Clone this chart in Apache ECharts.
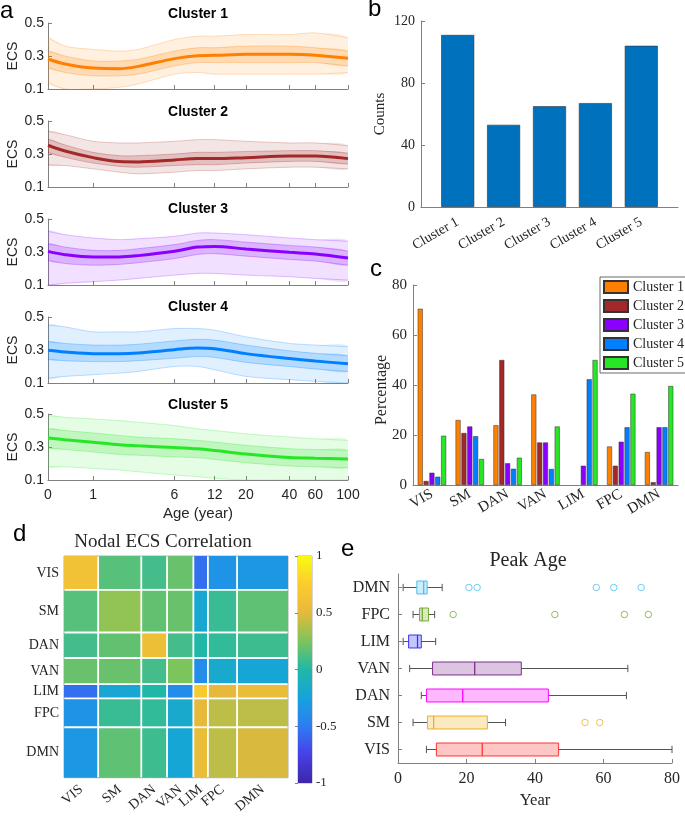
<!DOCTYPE html>
<html><head><meta charset="utf-8">
<script src="https://cdn.jsdelivr.net/npm/echarts@6/dist/echarts.min.js"></script>
<style>html,body{margin:0;padding:0;background:#fff}#c{width:685px;height:816px}</style>
</head><body><div id="c"></div><script>
// ================= DATA =================
// Panel a: ECS trajectories (age in years); envelopes
const ages = [0, 0.3, 1, 2, 3, 6, 9, 12, 20, 40, 60, 100];
const ageTicks = [0, 1, 6, 12, 20, 40, 60, 100];
const clusterNames = ['Cluster 1', 'Cluster 2', 'Cluster 3', 'Cluster 4', 'Cluster 5'];

const c1Mean = [0.282,0.252,0.227,0.223,0.237,0.284,0.302,0.304,0.310,0.310,0.304,0.286];
const c1Hi   = [0.41,0.36,0.34,0.33,0.34,0.40,0.42,0.42,0.43,0.43,0.44,0.41];
const c1Lo   = [0.14,0.10,0.10,0.11,0.13,0.19,0.20,0.19,0.19,0.19,0.19,0.20];
const c1Q3   = [0.33,0.30,0.27,0.27,0.28,0.33,0.35,0.35,0.36,0.36,0.35,0.33];
const c1Q1   = [0.23,0.20,0.18,0.18,0.19,0.24,0.26,0.26,0.26,0.26,0.26,0.24];

const c2Mean = [0.353,0.318,0.278,0.254,0.252,0.264,0.272,0.272,0.278,0.288,0.288,0.272];
const c2Hi   = [0.437,0.417,0.377,0.367,0.367,0.377,0.387,0.387,0.377,0.367,0.367,0.35];
const c2Lo   = [0.235,0.23,0.21,0.19,0.18,0.19,0.20,0.20,0.21,0.22,0.22,0.21];
const c2Q3   = [0.39,0.355,0.31,0.29,0.29,0.30,0.31,0.31,0.315,0.32,0.32,0.305];
const c2Q1   = [0.31,0.28,0.245,0.225,0.22,0.23,0.235,0.235,0.245,0.255,0.255,0.24];

const c3Mean = [0.304,0.284,0.270,0.270,0.278,0.304,0.330,0.334,0.318,0.298,0.288,0.264];
const c3Hi   = [0.425,0.405,0.385,0.375,0.38,0.395,0.415,0.415,0.405,0.385,0.375,0.365];
const c3Lo   = [0.10,0.11,0.12,0.13,0.14,0.16,0.17,0.17,0.16,0.15,0.14,0.13];
const c3Q3   = [0.35,0.33,0.31,0.31,0.32,0.345,0.37,0.375,0.36,0.34,0.33,0.305];
const c3Q1   = [0.25,0.23,0.22,0.225,0.235,0.26,0.285,0.29,0.275,0.255,0.245,0.22];

const c4Mean = [0.298,0.288,0.278,0.278,0.282,0.302,0.312,0.308,0.278,0.248,0.233,0.217];
const c4Hi   = [0.45,0.44,0.41,0.41,0.41,0.43,0.43,0.42,0.38,0.34,0.33,0.32];
const c4Lo   = [0.13,0.14,0.15,0.16,0.17,0.20,0.20,0.18,0.14,0.12,0.11,0.10];
const c4Q3   = [0.35,0.34,0.33,0.33,0.335,0.355,0.365,0.36,0.33,0.295,0.28,0.265];
const c4Q1   = [0.245,0.235,0.23,0.23,0.235,0.25,0.26,0.255,0.225,0.20,0.185,0.17];

const c5Mean = [0.354,0.344,0.329,0.313,0.307,0.297,0.289,0.279,0.258,0.236,0.232,0.228];
const c5Hi   = [0.49,0.48,0.47,0.46,0.45,0.43,0.41,0.40,0.38,0.36,0.35,0.34];
const c5Lo   = [0.18,0.18,0.17,0.16,0.15,0.13,0.12,0.11,0.10,0.10,0.10,0.10];
const c5Q3   = [0.41,0.40,0.385,0.37,0.36,0.35,0.34,0.33,0.31,0.29,0.285,0.28];
const c5Q1   = [0.295,0.285,0.27,0.255,0.25,0.24,0.235,0.225,0.205,0.185,0.18,0.175];

// Panel b: region counts per cluster
const counts = [111, 53, 65, 67, 104];

// Panel c: percentage of each network's regions in each cluster
const networks = ['VIS', 'SM', 'DAN', 'VAN', 'LIM', 'FPC', 'DMN'];
const pctC1 = [70.5, 26.0, 23.9, 36.2, 0, 15.4, 13.2];
const pctC2 = [1.6, 20.8, 50.0, 17.0, 0, 7.7, 1.1];
const pctC3 = [4.9, 23.4, 8.7, 17.0, 7.7, 17.3, 23.1];
const pctC4 = [3.3, 19.5, 6.5, 6.4, 42.3, 23.1, 23.1];
const pctC5 = [19.7, 10.4, 10.9, 23.4, 50.0, 36.5, 39.6];

// Panel d: network sizes and block-level nodal ECS correlation
const netSizes = [61, 77, 46, 47, 26, 52, 91];
const corrVIS = [0.62, 0.15, 0.10, 0.20, -0.55, -0.35, -0.32];
const corrSM  = [0.15, 0.30, 0.18, 0.20, -0.20, 0.07, 0.17];
const corrDAN = [0.10, 0.18, 0.58, 0.10, 0.00, 0.05, 0.08];
const corrVAN = [0.20, 0.20, 0.10, 0.25, -0.40, -0.18, -0.22];
const corrLIM = [-0.55, -0.20, 0.00, -0.40, 0.72, 0.50, 0.55];
const corrFPC = [-0.35, 0.07, 0.05, -0.18, 0.50, 0.40, 0.40];
const corrDMN = [-0.32, 0.17, 0.08, -0.22, 0.55, 0.40, 0.47];
const cbTicks = [-1, -0.5, 0, 0.5, 1];

// Panel e: peak age box plots (bottom to top)
const peakNets = ['VIS', 'SM', 'DAN', 'VAN', 'LIM', 'FPC', 'DMN'];
const peakLow  = [8.3, 4.4, 6.8, 3.4, 1.5, 4.4, 1.5];
const peakQ1   = [11.2, 8.6, 8.3, 10.1, 3.1, 6.3, 5.5];
const peakMed  = [24.6, 10.4, 18.9, 22.4, 5.7, 7.1, 7.5];
const peakQ3   = [46.9, 26.1, 43.9, 36.0, 6.8, 8.9, 8.5];
const peakHigh = [80.0, 31.4, 66.7, 67.1, 11.0, 10.7, 12.9];
const outVIS = [], outSM = [54.6, 58.9], outDAN = [], outVAN = [], outLIM = [];
const outFPC = [16.1, 45.8, 66.1, 73.1];
const outDMN = [20.7, 23.1, 57.9, 63.0, 71.0];

// ================= STYLE =================
const clusterColors = ['#FF8000', '#A32828', '#8A00FF', '#0080FF', '#26E626'];
const boxColors = ['#FF3333', '#EDB120', '#FF00FF', '#7E2F8E', '#3333FF', '#77AC30', '#4DBEEE'];
const parula = ['#3E26A8', '#4640E6', '#2E7CF2', '#15A3DC', '#1FB8A8', '#7CC55C', '#E6B93A', '#FCCB2F', '#F9FB0E'];
const SANS = '"Liberation Sans", Arial, sans-serif';
const SERIF = '"Liberation Serif", "Times New Roman", serif';
const lineCol = '#808080', txt = '#262626';

function rgba(hex, a) {
  const n = parseInt(hex.slice(1), 16);
  return 'rgba(' + (n >> 16 & 255) + ',' + (n >> 8 & 255) + ',' + (n & 255) + ',' + a + ')';
}
function merge(a, b) {
  const out = Object.assign({}, a);
  for (const k in b) {
    if (b[k] && typeof b[k] === 'object' && !Array.isArray(b[k]) && a[k] && typeof a[k] === 'object') out[k] = merge(a[k], b[k]);
    else out[k] = b[k];
  }
  return out;
}
function base() {
  return {
    axisLine: {show: true, lineStyle: {color: lineCol, width: 1}},
    axisTick: {show: true, inside: true, length: 4, lineStyle: {color: lineCol}},
    splitLine: {show: false},
    axisLabel: {color: txt}
  };
}

const grids = [], xAxes = [], yAxes = [], series = [];

// ================= PANEL A =================
const TX = a => Math.log(a + 1);
const tickPos = ageTicks.map(TX);
const clusters = [
  {mean: c1Mean, hi: c1Hi, lo: c1Lo, q3: c1Q3, q1: c1Q1},
  {mean: c2Mean, hi: c2Hi, lo: c2Lo, q3: c2Q3, q1: c2Q1},
  {mean: c3Mean, hi: c3Hi, lo: c3Lo, q3: c3Q3, q1: c3Q1},
  {mean: c4Mean, hi: c4Hi, lo: c4Lo, q3: c4Q3, q1: c4Q1},
  {mean: c5Mean, hi: c5Hi, lo: c5Lo, q3: c5Q3, q1: c5Q1}
];
const aTops = [23, 121, 219, 317, 414];
const pts = arr => ages.map((a, j) => [TX(a), arr[j]]);

function bandSeries(i, hi, lo, col, alpha, lineAlpha, z) {
  return {
    type: 'custom', xAxisIndex: i, yAxisIndex: i, clip: true, silent: true, z: z,
    data: ages.map((a, j) => [TX(a), hi[j], lo[j]]), encode: {x: 0, y: [1, 2]},
    renderItem: (params, api) => {
      if (params.dataIndex !== 0) return null;
      const up = ages.map((a, j) => api.coord([TX(a), hi[j]]));
      const dn = ages.map((a, j) => api.coord([TX(a), lo[j]]));
      return {type: 'group', children: [
        {type: 'polygon', shape: {points: up.concat(dn.slice().reverse()), smooth: 0.3}, style: {fill: rgba(col, alpha)}},
        {type: 'polyline', shape: {points: up, smooth: 0.3}, style: {stroke: rgba(col, lineAlpha), lineWidth: 0.7, fill: null}},
        {type: 'polyline', shape: {points: dn, smooth: 0.3}, style: {stroke: rgba(col, lineAlpha), lineWidth: 0.7, fill: null}}
      ]};
    }
  };
}

clusters.forEach((c, i) => {
  grids.push({left: 48, top: aTops[i], width: 300, height: 66});
  xAxes.push(merge(base(), {
    type: 'value', gridIndex: i, min: 0, max: TX(100),
    axisLabel: {show: i === 4, customValues: tickPos, fontFamily: SANS, fontSize: 14, margin: 8,
      formatter: v => { const k = tickPos.findIndex(p => Math.abs(p - v) < 1e-6); return k >= 0 ? String(ageTicks[k]) : ''; }},
    axisTick: {customValues: tickPos}
  }));
  yAxes.push(merge(base(), {
    type: 'value', gridIndex: i, min: 0.1, max: 0.5,
    axisLabel: {customValues: [0.1, 0.3, 0.5], fontFamily: SANS, fontSize: 14, margin: 4, formatter: v => v.toFixed(1)},
    axisTick: {customValues: [0.1, 0.3, 0.5]}
  }));
  const col = clusterColors[i];
  series.push(bandSeries(i, c.hi, c.lo, col, 0.12, 0.35, 1));
  series.push(bandSeries(i, c.q3, c.q1, col, 0.2, 0.4, 2));
  series.push({type: 'line', xAxisIndex: i, yAxisIndex: i, smooth: 0.35, symbol: 'none', silent: true,
    data: pts(c.mean), lineStyle: {width: 3, color: col}, z: 5});
});

// ================= PANEL B =================
grids.push({left: 421, top: 21, width: 257, height: 186});
xAxes.push(merge(base(), {
  type: 'value', gridIndex: 5, min: 0.2, max: 5.8,
  axisTick: {show: false},
  axisLabel: {customValues: [1, 2, 3, 4, 5], formatter: v => clusterNames[Math.round(v) - 1], rotate: 30, fontFamily: SERIF, fontSize: 14, margin: 14}
}));
yAxes.push(merge(base(), {
  type: 'value', gridIndex: 5, min: 0, max: 120, interval: 40,
  axisLabel: {fontFamily: SERIF, fontSize: 14, margin: 6}
}));
series.push({type: 'bar', xAxisIndex: 5, yAxisIndex: 5, data: counts.map((v, i) => [i + 1, v]), barWidth: 33,
  itemStyle: {color: '#0072BD', borderColor: '#333', borderWidth: 0.6}, silent: true});

// ================= PANEL C =================
grids.push({left: 413, top: 285, width: 265, height: 200});
xAxes.push(merge(base(), {
  type: 'value', gridIndex: 6, min: 0.5, max: 7.5,
  axisTick: {show: false},
  axisLabel: {customValues: [1, 2, 3, 4, 5, 6, 7], formatter: v => networks[Math.round(v) - 1], rotate: 30, fontFamily: SERIF, fontSize: 15, margin: 8}
}));
yAxes.push(merge(base(), {
  type: 'value', gridIndex: 6, min: 0, max: 80, interval: 20,
  axisLabel: {fontFamily: SERIF, fontSize: 15, margin: 6}
}));
const clusterPct = [pctC1, pctC2, pctC3, pctC4, pctC5];
clusterPct.forEach((arr, k) => {
  series.push({type: 'bar', name: clusterNames[k], xAxisIndex: 6, yAxisIndex: 6, barWidth: 5, barGap: '17%',
    data: networks.map((n, j) => [j + 1, arr[j] > 0 ? arr[j] : '-']),
    itemStyle: {color: clusterColors[k], borderColor: '#333', borderWidth: 0.5}, silent: true});
});

// ================= PANEL D =================
const corr = [corrVIS, corrSM, corrDAN, corrVAN, corrLIM, corrFPC, corrDMN];
const cum = [0];
netSizes.forEach(s => cum.push(cum[cum.length - 1] + s));
const centers = netSizes.map((s, i) => cum[i] + s / 2);
const total = cum[cum.length - 1];
const netAt = v => networks[centers.findIndex(c => Math.abs(c - v) < 1e-6)] || '';
grids.push({left: 64, top: 556, width: 224, height: 224, show: true, borderColor: '#999', borderWidth: 0.8});
xAxes.push({type: 'value', gridIndex: 7, min: 0, max: total, axisLine: {show: false}, axisTick: {show: false}, splitLine: {show: false},
  axisLabel: {customValues: centers, formatter: netAt, rotate: 40, fontFamily: SERIF, fontSize: 14, color: txt, margin: 10}});
yAxes.push({type: 'value', gridIndex: 7, min: 0, max: total, inverse: true, axisLine: {show: false}, axisTick: {show: false}, splitLine: {show: false},
  axisLabel: {customValues: centers, formatter: netAt, fontFamily: SERIF, fontSize: 14, color: txt, margin: 5}});
const heatData = [];
corr.forEach((row, r) => row.forEach((v, c) => heatData.push([cum[c], cum[c + 1], cum[r], cum[r + 1], v])));
const heatIndex = series.length;
series.push({
  type: 'custom', xAxisIndex: 7, yAxisIndex: 7, data: heatData, encode: {x: [0, 1], y: [2, 3]}, silent: true,
  renderItem: (params, api) => {
    const x0 = api.value(0), x1 = api.value(1), y0 = api.value(2), y1 = api.value(3);
    const p0 = api.coord([x0, y0]), p1 = api.coord([x1, y1]);
    let l = Math.min(p0[0], p1[0]), r = Math.max(p0[0], p1[0]);
    let t = Math.min(p0[1], p1[1]), b = Math.max(p0[1], p1[1]);
    const g = 0.9;
    if (x0 > 0) l += g; if (x1 < total) r -= g;
    if (y0 > 0) t += g; if (y1 < total) b -= g;
    return {type: 'rect', shape: {x: l, y: t, width: r - l, height: b - t}, style: {fill: api.visual('color')}};
  }
});
// colorbar
grids.push({left: 298, top: 556, width: 14, height: 227, show: true, borderColor: '#999', borderWidth: 0.8});
xAxes.push({type: 'value', gridIndex: 8, min: 0, max: 1, show: false});
yAxes.push({type: 'value', gridIndex: 8, min: -1, max: 1, position: 'right', axisLine: {show: false},
  axisTick: {show: true, inside: true, length: 3, lineStyle: {color: lineCol}, customValues: cbTicks}, splitLine: {show: false},
  axisLabel: {customValues: cbTicks, fontFamily: SERIF, fontSize: 13, color: txt, margin: 4}});
series.push({
  type: 'custom', xAxisIndex: 8, yAxisIndex: 8, data: [[0, 1, -1, 1]], encode: {x: [0, 1], y: [2, 3]}, silent: true,
  renderItem: (params, api) => {
    const p0 = api.coord([api.value(0), api.value(2)]), p1 = api.coord([api.value(1), api.value(3)]);
    const stops = parula.map((c, i) => ({offset: i / (parula.length - 1), color: c}));
    return {type: 'rect', shape: {x: p0[0], y: p1[1], width: p1[0] - p0[0], height: p0[1] - p1[1]},
      style: {fill: new echarts.graphic.LinearGradient(0, 1, 0, 0, stops)}};
  }
});

// ================= PANEL E =================
grids.push({left: 398, top: 574, width: 274, height: 189});
xAxes.push(merge(base(), {
  type: 'value', gridIndex: 9, min: 0, max: 80, interval: 20,
  axisLabel: {fontFamily: SERIF, fontSize: 16, margin: 8}
}));
yAxes.push(merge(base(), {
  type: 'category', gridIndex: 9, data: peakNets,
  axisTick: {alignWithLabel: true},
  axisLabel: {fontFamily: SERIF, fontSize: 16, margin: 8}
}));
const boxData = peakNets.map((n, i) => [i, peakLow[i], peakQ1[i], peakMed[i], peakQ3[i], peakHigh[i]]);
series.push({
  type: 'custom', xAxisIndex: 9, yAxisIndex: 9, data: boxData, encode: {x: [1, 2, 3, 4, 5], y: 0}, silent: true,
  renderItem: (params, api) => {
    const ci = api.value(0);
    const yc = api.coord([0, ci])[1];
    const h = api.size([0, 1])[1] * 0.48;
    const X = k => api.coord([api.value(k), ci])[0];
    const lo = X(1), q1 = X(2), md = X(3), q3 = X(4), hi = X(5);
    const col = boxColors[params.dataIndex];
    const wc = '#555', cap = h * 0.28;
    return {type: 'group', children: [
      {type: 'line', shape: {x1: lo, y1: yc, x2: q1, y2: yc}, style: {stroke: wc, lineWidth: 1}},
      {type: 'line', shape: {x1: q3, y1: yc, x2: hi, y2: yc}, style: {stroke: wc, lineWidth: 1}},
      {type: 'line', shape: {x1: lo, y1: yc - cap, x2: lo, y2: yc + cap}, style: {stroke: wc, lineWidth: 1}},
      {type: 'line', shape: {x1: hi, y1: yc - cap, x2: hi, y2: yc + cap}, style: {stroke: wc, lineWidth: 1}},
      {type: 'rect', shape: {x: q1, y: yc - h / 2, width: q3 - q1, height: h}, style: {fill: rgba(col, 0.28), stroke: col, lineWidth: 1}},
      {type: 'line', shape: {x1: md, y1: yc - h / 2, x2: md, y2: yc + h / 2}, style: {stroke: col, lineWidth: 1.3}}
    ]};
  }
});
const outliers = [outVIS, outSM, outDAN, outVAN, outLIM, outFPC, outDMN];
const outData = [];
outliers.forEach((arr, i) => arr.forEach(v => outData.push({value: [v, i], itemStyle: {color: '#fff', borderColor: boxColors[i], borderWidth: 1}})));
series.push({type: 'scatter', xAxisIndex: 9, yAxisIndex: 9, data: outData, symbol: 'circle', symbolSize: 6.5, silent: true, z: 5});

// ================= TEXT =================
const T = (text, x, y, font, opts) => Object.assign({type: 'text', x: x, y: y, silent: true,
  style: Object.assign({text: text, font: font, fill: txt, align: 'center', verticalAlign: 'middle'}, (opts && opts.style) || {})},
  opts && opts.rotation ? {rotation: opts.rotation} : {});
const L = (ch, x, y) => T(ch, x, y, '24px ' + SANS, {style: {fill: '#000', align: 'left'}});
const graphics = [
  L('a', 0, 11), L('b', 368, 9.6), L('c', 370, 269.6), L('d', 13, 534.6), L('e', 341, 549.6),
  T('Age (year)', 198, 514, '15px ' + SANS),
  T('Counts', 380, 114, '15px ' + SERIF, {rotation: Math.PI / 2}),
  T('Percentage', 381.5, 390, '16px ' + SERIF, {rotation: Math.PI / 2}),
  T('Nodal ECS Correlation', 163, 542.5, '19px ' + SERIF),
  T('Peak Age', 528, 561, '20px ' + SERIF),
  T('Year', 535, 800.5, '16.5px ' + SERIF)
];
const titleY = [14, 111.7, 209.3, 306.7, 405];
clusterNames.forEach((n, i) => {
  graphics.push(T(n, 198, titleY[i], 'bold 14px ' + SANS, {style: {fill: '#000'}}));
  graphics.push(T('ECS', 13, aTops[i] + 33, '14px ' + SANS, {rotation: Math.PI / 2}));
});

const chart = echarts.init(document.getElementById('c'), null, {renderer: 'canvas'});
chart.setOption({
  animation: false,
  backgroundColor: '#fff',
  grid: grids, xAxis: xAxes, yAxis: yAxes, series: series,
  legend: {data: clusterNames, orient: 'vertical', left: 600, top: 277, icon: 'rect', itemWidth: 24, itemHeight: 12, itemGap: 5,
    padding: [3, 4, 3, 3], borderColor: '#444', borderWidth: 0.8, backgroundColor: '#fff', selectedMode: false,
    textStyle: {fontFamily: SERIF, fontSize: 14, color: txt}},
  visualMap: {show: false, type: 'continuous', min: -1, max: 1, dimension: 4, seriesIndex: heatIndex, inRange: {color: parula}},
  graphic: graphics
});
</script></body></html>
